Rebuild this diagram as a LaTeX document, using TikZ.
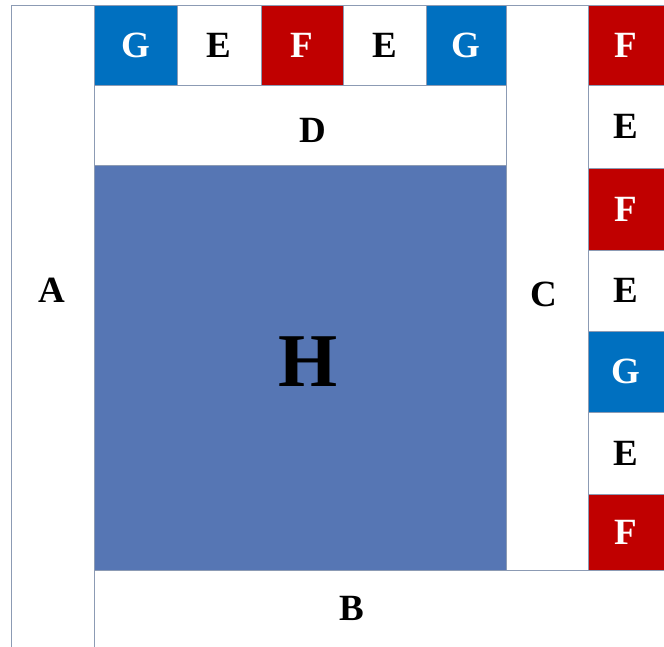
\documentclass[tikz,border=0pt]{standalone}
\usepackage{fontspec}
\setmainfont{Liberation Serif}
\usetikzlibrary{positioning}

\definecolor{cellline}{RGB}{140,155,180}
\definecolor{gblue}{RGB}{0,112,192}
\definecolor{fred}{RGB}{192,0,0}
\definecolor{denim}{RGB}{86,118,180}

\begin{document}
\begin{tikzpicture}[
        x=1pt, y=-1pt,
        region/.style={draw=cellline, line width=0.8pt, rectangle, inner sep=0pt, fill=white},
        cellE/.style={region, font=\fontsize{37}{37}\selectfont\bfseries},
        cellF/.style={cellE, fill=fred, text=white},
        cellG/.style={cellE, fill=gblue, text=white},
        tag/.style={font=\fontsize{37}{37}\selectfont\bfseries}
    ]
        \useasboundingbox (0, 0) rectangle (664, 647);

        % big regions
        \node[region, minimum width=83pt, minimum height=642pt] (A) at (52.5, 326) {};
        \node[region, minimum width=570pt, minimum height=77pt] (B) at (379, 608.5) {};
        \node[region, minimum width=82pt, minimum height=565pt] (C) at (547, 287.5) {};
        \node[region, minimum width=412pt, minimum height=80pt] (D) at (300, 125) {};
        \node[region, fill=denim, minimum width=412pt, minimum height=405pt] (H) at (300, 367.5) {};

        \node[tag] (labA) at (52, 290) {A};
        \node[tag] (labB) at (352, 608) {B};
        \node[tag] (labC) at (544, 294) {C};
        \node[tag] (labD) at (313, 130) {D};
        \node[font=\fontsize{76}{76}\selectfont\bfseries] (labH) at (308, 362) {H};

        % top row
        \node[cellG, minimum width=83pt, minimum height=80pt] (top1) at (135.5, 45) {G};
        \node[cellE, minimum width=84pt, minimum height=80pt] (top2) at (219, 45) {E};
        \node[cellF, minimum width=82pt, minimum height=80pt] (top3) at (302, 45) {F};
        \node[cellE, minimum width=83pt, minimum height=80pt] (top4) at (384.5, 45) {E};
        \node[cellG, minimum width=80pt, minimum height=80pt] (top5) at (466, 45) {G};

        % right column
        \node[cellF, minimum width=76pt, minimum height=80pt] (side1) at (626, 45) {F};
        \node[cellE, minimum width=76pt, minimum height=83pt] (side2) at (626, 126.5) {E};
        \node[cellF, minimum width=76pt, minimum height=82pt] (side3) at (626, 209) {F};
        \node[cellE, minimum width=76pt, minimum height=81pt] (side4) at (626, 290.5) {E};
        \node[cellG, minimum width=76pt, minimum height=81pt] (side5) at (626, 371.5) {G};
        \node[cellE, minimum width=76pt, minimum height=82pt] (side6) at (626, 453) {E};
        \node[cellF, minimum width=76pt, minimum height=76pt] (side7) at (626, 532) {F};

    \end{tikzpicture}
\end{document}
